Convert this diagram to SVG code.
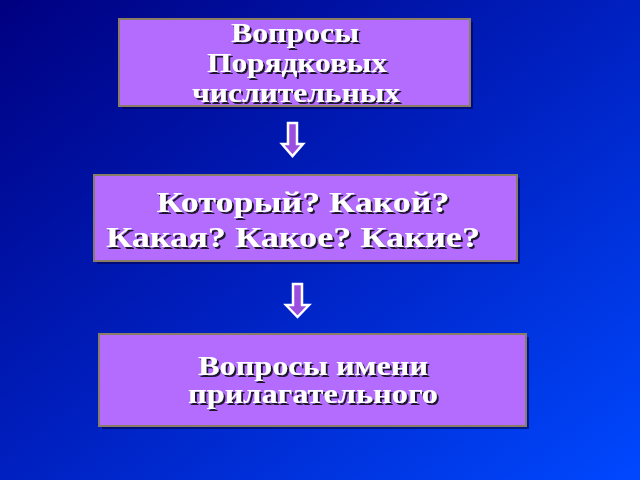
<svg xmlns="http://www.w3.org/2000/svg" width="640" height="480" viewBox="0 0 640 480">
<defs>
<linearGradient id="bg" x1="0" y1="0" x2="1" y2="1">
<stop offset="0" stop-color="#000080"/>
<stop offset="0.5" stop-color="#0020c0"/>
<stop offset="1" stop-color="#0048ff"/>
</linearGradient>
<filter id="tsh" x="-10%" y="-30%" width="120%" height="160%">
<feDropShadow dx="2" dy="2" stdDeviation="0.5" flood-color="#100818" flood-opacity="0.9"/>
</filter>
<style>
.box{fill:#b46cff;stroke:#8a7d66;stroke-width:2}
.shadow{fill:#000050;opacity:0.6}
.t{font-family:"Liberation Serif","Times New Roman",serif;font-weight:bold;text-anchor:middle;fill:#ffffff;filter:url(#tsh)}
.arrow{fill:#9b4fe0;stroke:#ffffff;stroke-width:2.5;stroke-linejoin:miter}
</style>
</defs>
<rect width="640" height="480" fill="url(#bg)"/>
<g id="node1">
<rect class="shadow" x="122" y="22" width="351" height="87"/>
<rect class="box" x="119" y="19" width="351" height="87"/>
<g font-size="26.5">
<text class="t" x="295" y="42" textLength="128" lengthAdjust="spacingAndGlyphs">Вопросы</text>
<text class="t" x="297" y="72" textLength="180" lengthAdjust="spacingAndGlyphs">Порядковых</text>
<text class="t" x="296" y="102" textLength="208" lengthAdjust="spacingAndGlyphs">числительных</text>
</g>
</g>
<g id="node2">
<rect class="shadow" x="97" y="178" width="423" height="86"/>
<rect class="box" x="94" y="175" width="423" height="86"/>
<g font-size="30">
<text class="t" x="303" y="212" textLength="293" lengthAdjust="spacingAndGlyphs">Который? Какой?</text>
<text class="t" x="293" y="247" textLength="374" lengthAdjust="spacingAndGlyphs">Какая? Какое? Какие?</text>
</g>
</g>
<g id="node3">
<rect class="shadow" x="102" y="337" width="427" height="92"/>
<rect class="box" x="99" y="334" width="427" height="92"/>
<g font-size="27">
<text class="t" x="313" y="375" textLength="230" lengthAdjust="spacingAndGlyphs">Вопросы имени</text>
<text class="t" x="313" y="403" textLength="250" lengthAdjust="spacingAndGlyphs">прилагательного</text>
</g>
</g>
<g id="connectors">
<path class="arrow" d="M288,123 H297 V144 H303 L292.5,156 L282,144 H288 Z"/>
<path class="arrow" d="M293,284 H302 V305 H309 L297.5,317 L286,305 H293 Z"/>
</g>
</svg>
